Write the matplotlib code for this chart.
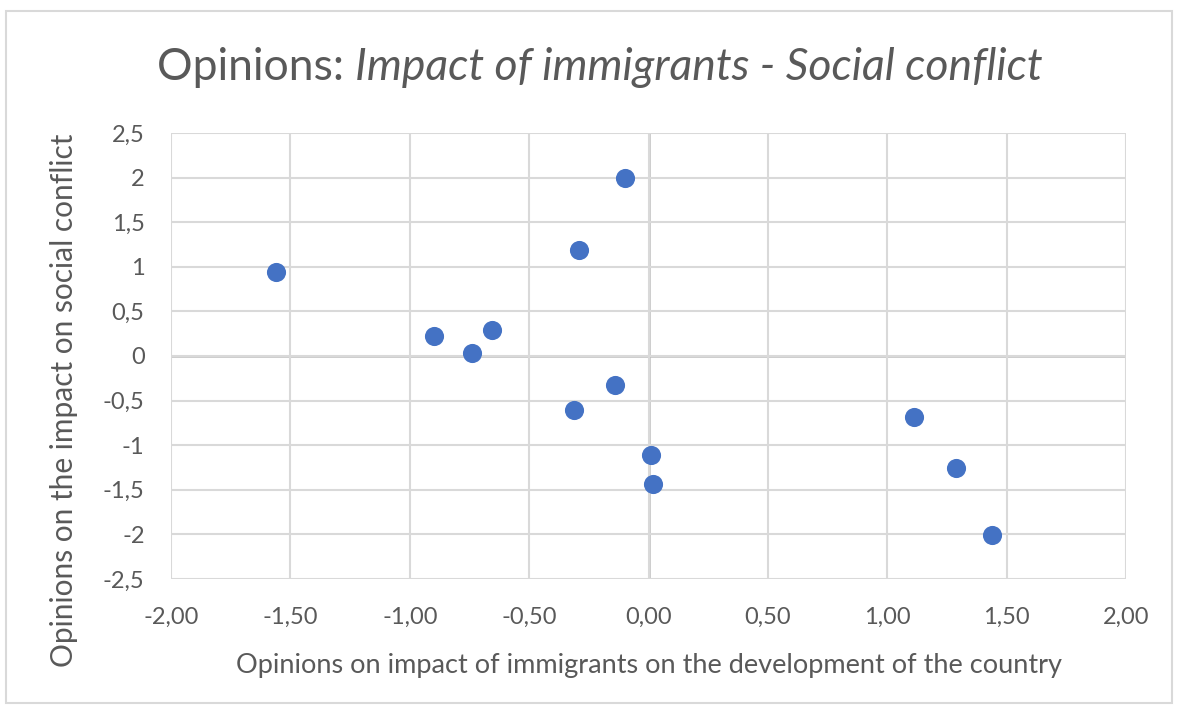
import matplotlib
matplotlib.use("Agg")
import matplotlib.pyplot as plt
from matplotlib.ticker import FuncFormatter, MultipleLocator
from matplotlib.patches import Rectangle

# Data
x_development = [-1.56, -0.90, -0.74, -0.655, -0.29, -0.10, -0.14, -0.31, 0.01, 0.02, 1.11, 1.29, 1.44]
y_conflict = [0.94, 0.22, 0.03, 0.29, 1.19, 2.00, -0.33, -0.61, -1.11, -1.44, -0.68, -1.25, -2.01]

title_plain = "Opinions: "
title_italic = "Impact of immigrants - Social conflict"
x_label = "Opinions on impact of immigrants on the development of the country"
y_label = "Opinions on the impact on social conflict"

TEXT = "#595959"
GRID = "#d9d9d9"
ZERO = "#bfbfbf"
MARK = "#4472C4"
FONT = "Lato"

plt.rcParams['font.family'] = [FONT, 'DejaVu Sans']

W, H = 1179, 715
fig = plt.figure(figsize=(W/100, H/100), dpi=100)
ax = fig.add_axes([171/W, 1 - 579/H, (1126-171)/W, (579-133)/H])

ax.set_xlim(-2, 2)
ax.set_ylim(-2.5, 2.5)
ax.xaxis.set_major_locator(MultipleLocator(0.5))
ax.yaxis.set_major_locator(MultipleLocator(0.5))
ax.xaxis.set_major_formatter(FuncFormatter(lambda v, p: f"{v:.2f}".replace('.', ',').replace('-0,00', '0,00')))
def yfmt(v, p):
    s = f"{v:g}"
    if s == "-0":
        s = "0"
    return s.replace('.', ',')
ax.yaxis.set_major_formatter(FuncFormatter(yfmt))

ax.grid(True, color=GRID, linewidth=1.5, zorder=0)
ax.axhline(0, color=ZERO, linewidth=1.8, zorder=1)
ax.axvline(0, color=ZERO, linewidth=1.8, zorder=1)
for s in ax.spines.values():
    s.set_visible(False)
ax.tick_params(length=0, labelsize=17, colors=TEXT)
ax.tick_params(axis='y', pad=19)
ax.tick_params(axis='x', pad=20)

ax.scatter(x_development, y_conflict, s=190, color=MARK, zorder=3, linewidths=0)

# Axis titles placed as in the reference
fig.text(649/W, 1 - 673/H, x_label, fontsize=19.5, color=TEXT, ha='center', va='baseline')
fig.text(73/W, 1 - 400/H, y_label, fontsize=21.5, color=TEXT, ha='center', va='baseline',
         rotation=90, rotation_mode='anchor')

# Title with plain and italic parts
ty = 1 - 80/H
t1 = fig.text(0.5, ty, title_plain, fontsize=32, color=TEXT, ha='left', va='baseline')
t2 = fig.text(0, ty, title_italic, fontsize=32, color=TEXT, style='italic', ha='left', va='baseline')
fig.canvas.draw()
r = fig.canvas.get_renderer()
w1 = t1.get_window_extent(r).width
w2 = t2.get_window_extent(r).width
start = 600 - (w1 + w2) / 2
t1.set_x(start / W)
t2.set_x((start + w1) / W)

# Outer chart border
fig.patches.append(Rectangle((6/W, 1 - 703/H), (1172-6)/W, (703-11)/H,
                             transform=fig.transFigure, fill=False, edgecolor="#d9d9d9", linewidth=1.5))

fig.savefig("out.png", dpi=100)
